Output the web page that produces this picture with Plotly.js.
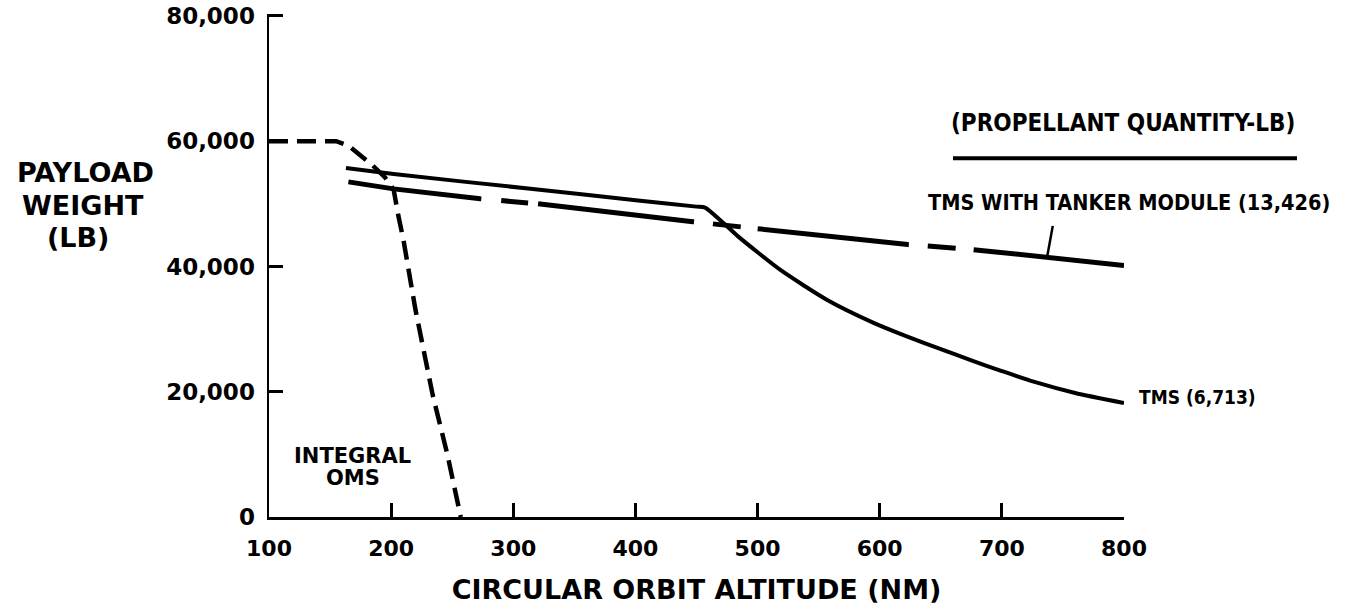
<!DOCTYPE html>
<html>
<head>
<meta charset="utf-8">
<script src="https://cdn.plot.ly/plotly-3.0.1.min.js"></script>
<style>
  html, body { margin: 0; padding: 0; background: #fff; }
  #chart { width: 1347px; height: 605px; }
</style>
</head>
<body>
<div id="chart"></div>
<script>
// ---- data ----
const omsAltitude = [100, 155, 165, 175, 185, 195, 202, 206, 210, 220, 234, 246, 257];
const omsPayload  = [60000, 60000, 59300, 57800, 56100, 54200, 52300, 48000, 44300, 33000, 19500, 10000, 0];

const tmsAltitude = [163, 202, 314, 404, 450, 457, 470, 484, 519, 557, 595, 620, 650, 675, 700, 726, 760, 800];
const tmsPayload  = [55700, 54750, 52400, 50500, 49550, 49400, 47300, 44800, 39400, 34650, 31000, 29000, 26800, 25000, 23300, 21600, 19800, 18200];

const tankerAltitude = [165, 202, 273, 320, 447, 463, 500, 623, 676, 800];
const tankerPayload  = [53500, 52380, 50800, 50000, 47140, 46830, 46030, 43490, 42700, 40160];

const xTickVals = [100, 200, 300, 400, 500, 600, 700, 800];
const xTickText = ['100', '200', '300', '400', '500', '600', '700', '800'];
const yTickVals = [0, 20000, 40000, 60000, 80000];
const yTickText = ['0', '20,000', '40,000', '60,000', '80,000'];

const F = 'DejaVu Sans, Liberation Sans, sans-serif';
const FC = 'DejaVu Sans Condensed, DejaVu Sans, sans-serif';

const traces = [
  {
    name: 'Integral OMS', x: omsAltitude, y: omsPayload, mode: 'lines',
    line: { color: '#000', width: 4.5, dash: '19px,9px' }, hoverinfo: 'skip'
  },
  {
    name: 'TMS (6,713)', x: tmsAltitude, y: tmsPayload, mode: 'lines',
    line: { color: '#000', width: 4, shape: 'spline', smoothing: 0.6 }, hoverinfo: 'skip'
  },
  {
    name: 'TMS with tanker module (13,426)', x: tankerAltitude, y: tankerPayload, mode: 'lines',
    line: { color: '#000', width: 5,
      dash: '134px,20px,27px,10px,157px,19px,28px,17px,152px,19px,28px,18px,170px' },
    hoverinfo: 'skip'
  }
];

const layout = {
  width: 1347, height: 605,
  margin: { l: 269, r: 223, t: 14, b: 88 },
  paper_bgcolor: '#fff', plot_bgcolor: '#fff',
  showlegend: false,
  font: { family: F, color: '#000', weight: 'bold' },
  xaxis: {
    range: [100, 800], tickvals: xTickVals, ticktext: xTickText,
    ticks: 'inside', ticklen: 14, tickwidth: 3, tickcolor: '#000',
    showline: true, linecolor: '#000', linewidth: 3,
    showgrid: false, zeroline: false,
    tickfont: { family: F, size: 22, weight: 'bold', color: '#000' },
    ticklabelstandoff: 10,
    title: { text: 'CIRCULAR ORBIT ALTITUDE (NM)', font: { family: F, size: 27, weight: 'bold', color: '#000' }, standoff: 20 },
    automargin: false
  },
  yaxis: {
    range: [0, 80300], tickvals: yTickVals, ticktext: yTickText,
    ticks: 'inside', ticklen: 14, tickwidth: 3, tickcolor: '#000',
    showline: true, linecolor: '#000', linewidth: 2.5,
    showgrid: false, zeroline: false,
    tickfont: { family: F, size: 23, weight: 'bold', color: '#000' },
    ticklabelstandoff: 7, ticklabeloverflow: 'allow',
    automargin: false
  },
  shapes: [
    { type: 'line', xref: 'paper', yref: 'paper', x0: 0.80, x1: 1.2023, y0: 0.713, y1: 0.713,
      line: { color: '#000', width: 4 } }
  ],
  annotations: [
    { xref: 'paper', yref: 'paper', x: -0.2152, y: 0.684, text: 'PAYLOAD', showarrow: false,
      xanchor: 'center', yanchor: 'middle', font: { family: F, size: 27, weight: 'bold' } },
    { xref: 'paper', yref: 'paper', x: -0.2175, y: 0.620, text: 'WEIGHT', showarrow: false,
      xanchor: 'center', yanchor: 'middle', font: { family: F, size: 27, weight: 'bold' } },
    { xref: 'paper', yref: 'paper', x: -0.2234, y: 0.555, text: '(LB)', showarrow: false,
      xanchor: 'center', yanchor: 'middle', font: { family: F, size: 27, weight: 'bold' } },
    { xref: 'x', yref: 'y', x: 168, y: 9780, text: 'INTEGRAL', showarrow: false,
      xanchor: 'center', yanchor: 'middle', font: { family: F, size: 21, weight: 'bold' } },
    { xref: 'x', yref: 'y', x: 169, y: 6150, text: 'OMS', showarrow: false,
      xanchor: 'center', yanchor: 'middle', font: { family: F, size: 21, weight: 'bold' } },
    { xref: 'paper', yref: 'paper', x: 0.9988, y: 0.783, text: '(PROPELLANT QUANTITY-LB)', showarrow: false,
      xanchor: 'center', yanchor: 'middle', font: { family: FC, size: 24, weight: 'bold' } },
    { xref: 'paper', yref: 'paper', x: 1.0058, y: 0.626, text: 'TMS WITH TANKER MODULE (13,426)', showarrow: false,
      xanchor: 'center', yanchor: 'middle', font: { family: FC, size: 21.5, weight: 'bold' } },
    { xref: 'paper', yref: 'paper', x: 1.0152, y: 0.2386, text: 'TMS (6,713)', showarrow: false,
      xanchor: 'left', yanchor: 'middle', font: { family: FC, size: 19, weight: 'bold' } },
    { xref: 'x', yref: 'y', x: 737, y: 41450, text: '', showarrow: true, arrowhead: 0,
      arrowwidth: 2.5, arrowcolor: '#000', ax: 6, ay: -33, standoff: 0 }
  ]
};

Plotly.newPlot('chart', traces, layout, { staticPlot: true, displayModeBar: false });
</script>
</body>
</html>
